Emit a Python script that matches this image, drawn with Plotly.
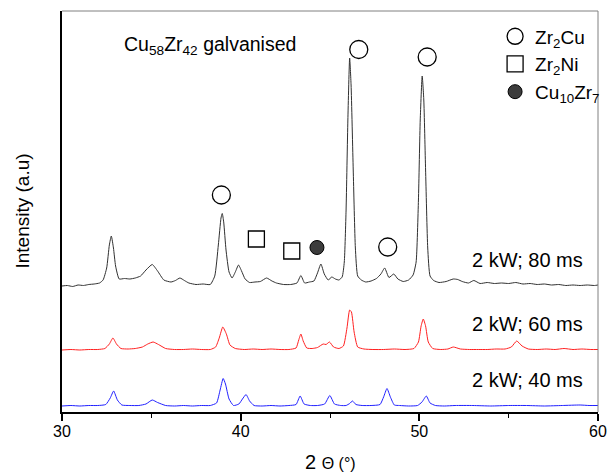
import plotly.graph_objects as go

# ---- data (2-theta in degrees, intensity in a.u. above each pattern's own baseline)
tt_80 = [30.0, 30.3, 30.6, 30.9, 31.2, 31.5, 31.8, 32.1, 32.3, 32.5, 32.65, 32.76, 32.88, 33.0, 33.2,
         33.5, 33.8, 34.1, 34.4, 34.7, 35.05, 35.35, 35.7, 36.1, 36.35, 36.6, 36.85, 37.1, 37.5, 37.9,
         38.3, 38.55, 38.75, 38.9, 38.97, 39.05, 39.18, 39.35, 39.52, 39.7, 39.88, 40.05, 40.25, 40.5,
         40.8, 41.1, 41.45, 41.75, 42.0, 42.4, 42.8, 43.15, 43.37, 43.58, 43.85, 44.1, 44.3, 44.49,
         44.68, 44.9, 45.1, 45.3, 45.5, 45.68, 45.8, 45.9, 46.0, 46.1, 46.18, 46.3, 46.42, 46.55,
         46.75, 47.0, 47.3, 47.6, 47.85, 48.06, 48.3, 48.57, 48.8, 49.1, 49.4, 49.65, 49.82, 49.95,
         50.05, 50.16, 50.25, 50.35, 50.47, 50.6, 50.8, 51.1, 51.5, 51.9, 52.15, 52.4, 52.75, 53.05,
         53.4, 53.8, 54.2, 54.6, 55.0, 55.4, 55.8, 56.2, 56.6, 57.0, 57.4, 57.8, 58.2, 58.6, 59.0,
         59.4, 59.8, 60.0]
int_80 = [0, 0.5, -0.5, 1, 0.5, 1.5, 2, 3, 6, 18, 41, 50, 38, 20, 7,
          7.5, 7, 8, 10, 16, 21.5, 15, 6, 4, 5.5, 8, 5.5, 3, 1.5, 2,
          1.5, 10, 41, 68, 72.5, 64, 36, 14, 8, 14, 21, 15, 7, 3.5,
          4, 4.5, 8, 5, 3, 1.5, 1.5, 3, 10.5, 3, 4, 5, 13, 22,
          12, 6, 9, 7, 6, 9, 24, 76, 166, 228, 201, 116, 38, 10,
          6, 4, 5, 7.5, 12, 18, 8.5, 12, 7, 4.5, 6, 11, 24, 86,
          166, 210, 186, 116, 38, 10, 5.5, 3.5, 4.5, 7, 6.5, 4.5, 3, 5.5,
          2.5, 3.5, 2.5, 3, 2.5, 3.5, 2, 2.5, 1.5, 2, 1, 1.5, 0.5, 1, 0.5,
          1, 0.5, 1]

tt_60 = [30.0, 30.5, 31.0, 31.5, 32.0, 32.4, 32.65, 32.85, 33.05, 33.3, 33.7, 34.1, 34.5, 34.8, 35.1,
         35.4, 35.8, 36.3, 36.8, 37.3, 37.8, 38.3, 38.6, 38.8, 39.0, 39.2, 39.4, 39.7, 40.2, 40.7,
         41.2, 41.7, 42.2, 42.7, 43.1, 43.25, 43.37, 43.5, 43.7, 44.0, 44.3, 44.62, 44.78, 44.97,
         45.2, 45.5, 45.75, 45.95, 46.1, 46.2, 46.35, 46.55, 46.9, 47.4, 48.0, 48.6, 49.2, 49.7,
         49.95, 50.1, 50.22, 50.35, 50.5, 50.75, 51.2, 51.6, 51.9, 52.3, 52.8, 53.3, 53.8, 54.3,
         54.8, 55.15, 55.45, 55.75, 56.1, 56.6, 57.1, 57.6, 58.1, 58.6, 59.1, 59.6, 60.0]
int_60 = [0, 0.5, 0, 0.5, 0.5, 1.5, 6, 12, 6, 1.5, 1, 1.5, 3, 6, 8,
          5.5, 1.5, 0.5, 0.5, 1, 0.5, 0.5, 3, 12, 23, 16, 5, 1.5, 0.5, 1,
          0.5, 1, 0.5, 0.5, 2, 10, 16, 9, 2, 1.5, 2.5, 6, 5.5, 8,
          3, 1.5, 4, 22, 40, 38, 18, 3, 1, 0.5, 0.5, 1, 0.5, 1.5,
          8, 24, 31, 24, 8, 1.5, 0.5, 1, 3, 1, 0.5, 0.5, 0.5, 1,
          1, 3, 9, 4, 1, 0.5, 1, 0.5, 1.5, 0.5, 1, 0.5, 0.5]

tt_40 = [30.0, 30.5, 31.0, 31.5, 32.0, 32.45, 32.7, 32.89, 33.1, 33.35, 33.8, 34.3, 34.7, 35.05, 35.35,
         35.8, 36.3, 36.8, 37.3, 37.8, 38.3, 38.65, 38.85, 39.02, 39.15, 39.35, 39.6, 39.9, 40.1, 40.3,
         40.5, 40.75, 41.2, 41.7, 42.2, 42.7, 43.1, 43.33, 43.55, 43.9, 44.3, 44.7, 44.99, 45.25,
         45.6, 45.9, 46.1, 46.26, 46.45, 46.8, 47.3, 47.8, 48.0, 48.19, 48.38, 48.6, 48.9, 49.4,
         49.9, 50.15, 50.39, 50.6, 50.9, 51.4, 52.0, 53.0, 54.0, 55.0, 56.0, 57.0, 58.0, 59.0,
         59.5, 60.0]
int_40 = [0, 0.5, 0, 0.5, 0.5, 1.5, 8, 15, 6, 1, 0.5, 0.5, 2, 6, 3.5,
          0.5, 0, 0.5, 0, 0.5, 0.5, 3, 16, 27.5, 22, 7, 0.5, 2, 7, 11.5,
          5, 0.5, 0, 0.5, 0, 0.5, 1.5, 10, 2, 0.5, 0.5, 2, 10.5, 2,
          0.5, 0.5, 2.5, 5, 1.5, 0.5, 0.5, 1.5, 9, 17.5, 9, 1, 0.5, 0,
          0.5, 4, 10, 3, 0.5, 0, 0.5, 0.5, 0, 0.5, 0.5, 0, 0.5, 1,
          0.5, 0.5]

# vertical stacking offsets of the three patterns
offset_80, offset_60, offset_40 = 126, 62, 6
labels = ["2 kW; 80 ms", "2 kW; 60 ms", "2 kW; 40 ms"]

# phase identification markers (2-theta, height)
zr2cu_x, zr2cu_y = [38.92, 46.61, 50.44, 48.23], [217, 362.5, 355, 165]
zr2ni_x, zr2ni_y = [40.88, 42.86], [173, 161]
cu10zr7_x, cu10zr7_y = [44.27], [164.5]

FONT = "Liberation Sans, Arial, sans-serif"

fig = go.Figure()
for tt, it, off, col in [(tt_80, int_80, offset_80, "#303030"),
                         (tt_60, int_60, offset_60, "#ff2020"),
                         (tt_40, int_40, offset_40, "#2020ff")]:
    fig.add_trace(go.Scatter(x=tt, y=[v + off for v in it], mode="lines",
                             line=dict(color=col, width=1, shape="spline", smoothing=0.5),
                             showlegend=False, hoverinfo="skip"))

fig.add_trace(go.Scatter(x=zr2cu_x, y=zr2cu_y, mode="markers", name="Zr<sub>2</sub>Cu",
                         marker=dict(symbol="circle-open", size=18, color="black",
                                     line=dict(width=1.3, color="black"))))
fig.add_trace(go.Scatter(x=zr2ni_x, y=zr2ni_y, mode="markers", name="Zr<sub>2</sub>Ni",
                         marker=dict(symbol="square-open", size=16, color="black",
                                     line=dict(width=1.3, color="black"))))
fig.add_trace(go.Scatter(x=cu10zr7_x, y=cu10zr7_y, mode="markers", name="Cu<sub>10</sub>Zr<sub>7</sub>",
                         marker=dict(symbol="circle", size=14, color="#3c3c3c",
                                     line=dict(width=1, color="black"))))

label_y = [152, 88, 32]
for t, yy in zip(labels, label_y):
    fig.add_annotation(x=52.85, y=yy, text=t, showarrow=False, xanchor="left", yanchor="middle",
                       font=dict(size=20, color="black", family=FONT))

fig.add_annotation(x=33.35, y=367, text="Cu<sub>58</sub>Zr<sub>42</sub> galvanised", showarrow=False,
                   xanchor="left", yanchor="middle", font=dict(size=19.5, color="black", family=FONT))

# axis titles
fig.add_annotation(xref="paper", yref="paper", x=0, y=0.5, xshift=-40, text="Intensity (a.u)",
                   textangle=-90, showarrow=False, xanchor="center", yanchor="middle",
                   font=dict(size=19, color="black", family=FONT))
fig.add_annotation(xref="paper", yref="paper", x=0.5, y=0, yshift=-50,
                   text="2 <span style='font-size:16px'>Θ (°)</span>",
                   showarrow=False, xanchor="center", yanchor="middle",
                   font=dict(size=20, color="black", family=FONT))

# top and right frame (thin grey)
fig.add_shape(type="line", xref="paper", yref="paper", x0=0, x1=1, y0=1, y1=1,
              line=dict(color="#808080", width=1))
fig.add_shape(type="line", xref="paper", yref="paper", x0=1, x1=1, y0=0, y1=1,
              line=dict(color="#808080", width=1))

fig.update_layout(
    width=616, height=472,
    margin=dict(l=62, r=9, t=11, b=60),
    paper_bgcolor="white", plot_bgcolor="white",
    font=dict(family=FONT, color="black"),
    showlegend=True,
    legend=dict(x=0.808, y=0.984, xanchor="left", yanchor="top", bgcolor="rgba(0,0,0,0)",
                font=dict(size=19, color="black", family=FONT), tracegroupgap=0),
    xaxis=dict(range=[30, 60], tickvals=[30, 40, 50, 60], ticks="outside", ticklen=7,
               tickwidth=1.5, tickcolor="black", showline=True, linecolor="black", linewidth=1.5,
               showgrid=False, zeroline=False, tickfont=dict(size=16, family=FONT),
               ticklabelstandoff=-3,
               minor=dict(tickvals=[35, 45, 55], ticks="outside", ticklen=4, tickcolor="black",
                          tickwidth=1.2)),
    yaxis=dict(range=[0, 401], showticklabels=False, ticks="", showline=True, linecolor="black",
               linewidth=2, showgrid=False, zeroline=False),
)

fig.write_html("out.html", config={"displayModeBar": False},
               post_script="document.body.style.margin='0px';document.body.style.overflow='hidden';")
